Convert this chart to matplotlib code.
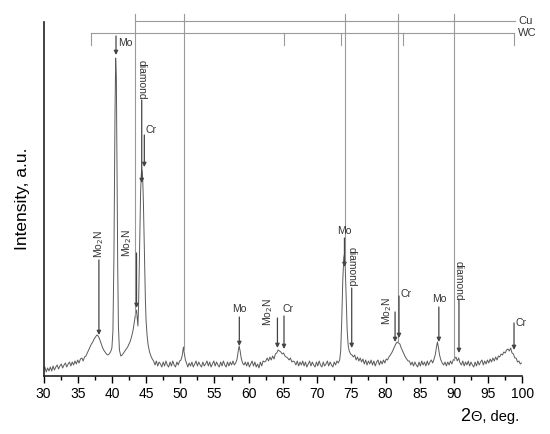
import matplotlib
matplotlib.use("Agg")
import matplotlib.pyplot as plt
import numpy as np

plt.rcParams['font.family'] = ['Liberation Sans', 'DejaVu Sans']

# ---------------- data ----------------
two_theta = [
    30.0, 30.2, 30.4, 30.6, 30.8, 31.0, 31.2, 31.4, 31.6, 31.8, 32.0, 32.2, 32.4, 32.6, 32.8,
    33.0, 33.2, 33.4, 33.6, 33.8, 34.0, 34.2, 34.4, 34.6, 34.8, 35.0, 35.2, 35.4, 35.6, 35.8,
    36.0, 36.2, 36.4, 36.6, 36.8, 37.0, 37.2, 37.4, 37.6, 37.8, 38.0, 38.2, 38.4, 38.6, 38.8,
    39.0, 39.2, 39.4, 39.6, 39.8, 40.0, 40.15, 40.3, 40.45, 40.55, 40.65, 40.75, 40.85, 40.95,
    41.1, 41.3, 41.5, 41.7, 41.9, 42.1, 42.3, 42.5, 42.7, 42.9, 43.1, 43.3, 43.5, 43.6, 43.7,
    43.8, 43.9, 44.0, 44.1, 44.2, 44.3, 44.4, 44.5, 44.6, 44.7, 44.8, 44.9, 45.0, 45.15, 45.3,
    45.5, 45.7, 45.9, 46.1, 46.3, 46.5, 46.7, 46.9, 47.1, 47.3, 47.5, 47.7, 47.9, 48.1, 48.3,
    48.5, 48.7, 48.9, 49.1, 49.3, 49.5, 49.7, 49.9, 50.1, 50.3, 50.45, 50.6, 50.75, 50.9, 51.1,
    51.3, 51.5, 51.7, 51.9, 52.1, 52.3, 52.5, 52.7, 52.9, 53.1, 53.3, 53.5, 53.7, 53.9, 54.1,
    54.3, 54.5, 54.7, 54.9, 55.1, 55.3, 55.5, 55.7, 55.9, 56.1, 56.3, 56.5, 56.7, 56.9, 57.1,
    57.3, 57.5, 57.7, 57.9, 58.1, 58.3, 58.45, 58.6, 58.75, 58.9, 59.1, 59.3, 59.5, 59.7, 59.9,
    60.1, 60.3, 60.5, 60.7, 60.9, 61.1, 61.3, 61.5, 61.7, 61.9, 62.1, 62.3, 62.5, 62.7, 62.9,
    63.1, 63.3, 63.5, 63.7, 63.9, 64.1, 64.3, 64.5, 64.7, 64.9, 65.1, 65.3, 65.5, 65.7, 65.9,
    66.1, 66.3, 66.5, 66.7, 66.9, 67.1, 67.3, 67.5, 67.7, 67.9, 68.1, 68.3, 68.5, 68.7, 68.9,
    69.1, 69.3, 69.5, 69.7, 69.9, 70.1, 70.3, 70.5, 70.7, 70.9, 71.1, 71.3, 71.5, 71.7, 71.9,
    72.1, 72.3, 72.5, 72.7, 72.9, 73.1, 73.3, 73.45, 73.6, 73.75, 73.9, 74.0, 74.1, 74.25, 74.4,
    74.55, 74.7, 74.9, 75.1, 75.3, 75.5, 75.7, 75.9, 76.1, 76.3, 76.5, 76.7, 76.9, 77.1, 77.3,
    77.5, 77.7, 77.9, 78.1, 78.3, 78.5, 78.7, 78.9, 79.1, 79.3, 79.5, 79.7, 79.9, 80.1, 80.3,
    80.5, 80.7, 80.9, 81.1, 81.3, 81.5, 81.7, 81.9, 82.1, 82.3, 82.5, 82.7, 82.9, 83.1, 83.3,
    83.5, 83.7, 83.9, 84.1, 84.3, 84.5, 84.7, 84.9, 85.1, 85.3, 85.5, 85.7, 85.9, 86.1, 86.3,
    86.5, 86.7, 86.9, 87.1, 87.3, 87.45, 87.6, 87.75, 87.9, 88.1, 88.3, 88.5, 88.7, 88.9, 89.1,
    89.3, 89.5, 89.7, 89.9, 90.1, 90.3, 90.5, 90.7, 90.9, 91.1, 91.3, 91.5, 91.7, 91.9, 92.1,
    92.3, 92.5, 92.7, 92.9, 93.1, 93.3, 93.5, 93.7, 93.9, 94.1, 94.3, 94.5, 94.7, 94.9, 95.1,
    95.3, 95.5, 95.7, 95.9, 96.1, 96.3, 96.5, 96.7, 96.9, 97.1, 97.3, 97.5, 97.7, 97.9, 98.1,
    98.3, 98.5, 98.7, 98.9, 99.1, 99.3, 99.5, 99.7, 99.9,
]
intensity = [
    6, 9, 4, 8, 5, 9, 5, 10, 6, 9, 11, 7, 10, 12, 8,
    11, 13, 9, 12, 14, 10, 14, 11, 15, 12, 16, 13, 17, 18, 15,
    19, 20, 23, 26, 29, 32, 34, 37, 39, 41, 40, 37, 33, 29, 26,
    24, 22, 21, 22, 24, 28, 45, 120, 260, 318, 300, 200, 110, 50,
    26, 20, 21, 23, 25, 27, 29, 32, 35, 40, 46, 55, 64, 66, 58,
    50, 70, 110, 150, 185, 202, 206, 198, 175, 140, 105, 75, 55, 40, 31,
    24, 20, 17, 15, 11, 15, 10, 14, 12, 9, 14, 10, 15, 11, 9,
    14, 10, 15, 11, 9, 14, 11, 15, 16, 21, 29, 22, 16, 13, 9,
    13, 10, 14, 9, 12, 15, 10, 14, 11, 9, 14, 10, 12, 15, 10,
    14, 9, 12, 15, 10, 14, 11, 9, 14, 10, 15, 11, 9, 14, 10,
    14, 11, 15, 11, 13, 17, 24, 30, 25, 18, 13, 11, 14, 10, 14,
    9, 12, 15, 10, 14, 9, 12, 8, 14, 10, 15, 14, 15, 18, 15,
    19, 16, 20, 17, 22, 23, 26, 25, 24, 22, 23, 20, 19, 18, 16,
    18, 14, 15, 14, 11, 15, 10, 14, 11, 15, 10, 14, 9, 12, 15,
    10, 14, 11, 9, 14, 10, 15, 11, 9, 14, 10, 12, 15, 10, 14,
    11, 9, 14, 11, 15, 13, 16, 25, 55, 95, 118, 122, 112, 80, 45,
    30, 25, 22, 21, 19, 21, 16, 19, 15, 18, 14, 17, 12, 16, 11,
    15, 12, 16, 11, 15, 10, 14, 16, 11, 15, 12, 16, 13, 17, 16,
    19, 21, 23, 26, 29, 32, 34, 33, 32, 28, 25, 22, 19, 17, 15,
    15, 11, 14, 10, 14, 11, 9, 14, 10, 15, 11, 14, 10, 15, 11,
    14, 16, 13, 17, 22, 29, 34, 28, 21, 16, 13, 11, 14, 10, 14,
    11, 15, 12, 16, 17, 19, 15, 18, 13, 11, 15, 10, 14, 11, 15,
    10, 14, 11, 9, 14, 10, 15, 11, 14, 16, 11, 15, 12, 16, 13,
    17, 14, 18, 15, 19, 16, 20, 19, 22, 21, 24, 23, 26, 27, 25,
    28, 23, 22, 18, 18, 14, 15, 12, 13,
]

# reference phases
cu_lines = [43.4, 50.5, 74.1, 81.9, 90.0]
wc_lines = [36.9, 65.2, 73.45, 82.5, 98.8]

# peak labels: text and arrow 2theta
peak_labels = ['Mo', 'diamond', 'Cr', 'Mo$_2$N', 'Mo$_2$N', 'Mo', 'Mo$_2$N', 'Cr',
               'Mo', 'diamond', 'Mo$_2$N', 'Cr', 'Mo', 'diamond', 'Cr']
peak_pos = [40.6, 44.36, 44.74, 38.1, 43.6, 58.63, 64.2, 65.16,
            74.0, 75.06, 81.4, 81.97, 87.8, 90.74, 98.79]

x_ticks = [30, 35, 40, 45, 50, 55, 60, 65, 70, 75, 80, 85, 90, 95, 100]

# ---------------- layout ----------------
arrow_top = [340, 276, 241, 116, 123, 59, 58, 60, 138, 88, 64, 80, 69, 76, 53]
arrow_tip = [321, 193, 209, 41, 68, 30, 28, 27, 109, 28, 34, 38, 34, 23, 26]
# label placement: (x, y, rotation, ha, va)
label_place = [
    (40.96, 333, 0, 'left', 'center'),
    (44.36, 296, -90, 'center', 'center'),
    (44.95, 246, 0, 'left', 'center'),
    (38.1, 132, 90, 'center', 'center'),
    (42.2, 133, 90, 'center', 'center'),
    (58.65, 67, 0, 'center', 'center'),
    (62.8, 64, 90, 'center', 'center'),
    (64.9, 67, 0, 'left', 'center'),
    (74.0, 145, 0, 'center', 'center'),
    (75.06, 109, -90, 'center', 'center'),
    (80.2, 65, 90, 'center', 'center'),
    (82.2, 82, 0, 'left', 'center'),
    (87.8, 77, 0, 'center', 'center'),
    (90.74, 95, -90, 'center', 'center'),
    (99.0, 53, 0, 'left', 'center'),
]

fig = plt.figure(figsize=(5.5, 4.34), dpi=100)
ax = fig.add_axes([43.5 / 550, 1 - 376 / 434, (522.3 - 43.5) / 550, (376 - 22) / 434])

ax.plot(two_theta, intensity, color='#5a5a5a', lw=0.7)

# Cu reference lines
cu_top = 362
cu_bar = 355
for p in cu_lines:
    bottom = np.interp(p, two_theta, intensity)
    ax.plot([p, p], [bottom, cu_top], color='#9a9a9a', lw=0.8, clip_on=False)
ax.plot([cu_lines[0], 98.9], [cu_bar, cu_bar], color='#9a9a9a', lw=0.8, clip_on=False)
ax.text(99.4, cu_bar, 'Cu', fontsize=8, ha='left', va='center', color='#333333')

# WC reference bar with ticks
wc_bar = 343
ax.plot([wc_lines[0], wc_lines[-1]], [wc_bar, wc_bar], color='#9a9a9a', lw=0.8, clip_on=False)
for p in wc_lines:
    ax.plot([p, p], [wc_bar, wc_bar - 12], color='#9a9a9a', lw=0.8, clip_on=False)
ax.text(99.4, wc_bar, 'WC', fontsize=8, ha='left', va='center', color='#333333')

# peak arrows and labels
for lab, p, top, tip, (lx, ly, rot, ha, va) in zip(peak_labels, peak_pos, arrow_top, arrow_tip, label_place):
    ax.annotate('', xy=(p, tip), xytext=(p, top),
                arrowprops=dict(arrowstyle='-|>', color='#444444', lw=0.9,
                                mutation_scale=6, shrinkA=0, shrinkB=0))
    ax.text(lx, ly, lab, fontsize=7.5, rotation=rot, ha=ha, va=va, color='#333333')

ax.set_xlim(30, 100)
ax.set_ylim(0, 354)
ax.set_xticks(x_ticks)
ax.set_xticks(np.arange(32.5, 100, 5), minor=True)
ax.set_yticks([])
ax.tick_params(axis='x', which='major', length=5, width=1, direction='out', labelsize=10, pad=3)
ax.tick_params(axis='x', which='minor', length=3, width=1, direction='out')
for s in ['top', 'right']:
    ax.spines[s].set_visible(False)
for s in ['left', 'bottom']:
    ax.spines[s].set_color('#222222')
    ax.spines[s].set_linewidth(1.2)

ax.set_ylabel('Intensity, a.u.', fontsize=12.5, labelpad=10)
fig.text(470 / 550, 1 - 421 / 434, '2', fontsize=13, ha='right', va='baseline')
fig.text(471 / 550, 1 - 421 / 434, 'Θ, deg.', fontsize=10.5, ha='left', va='baseline')

fig.savefig('out.png', dpi=100)
